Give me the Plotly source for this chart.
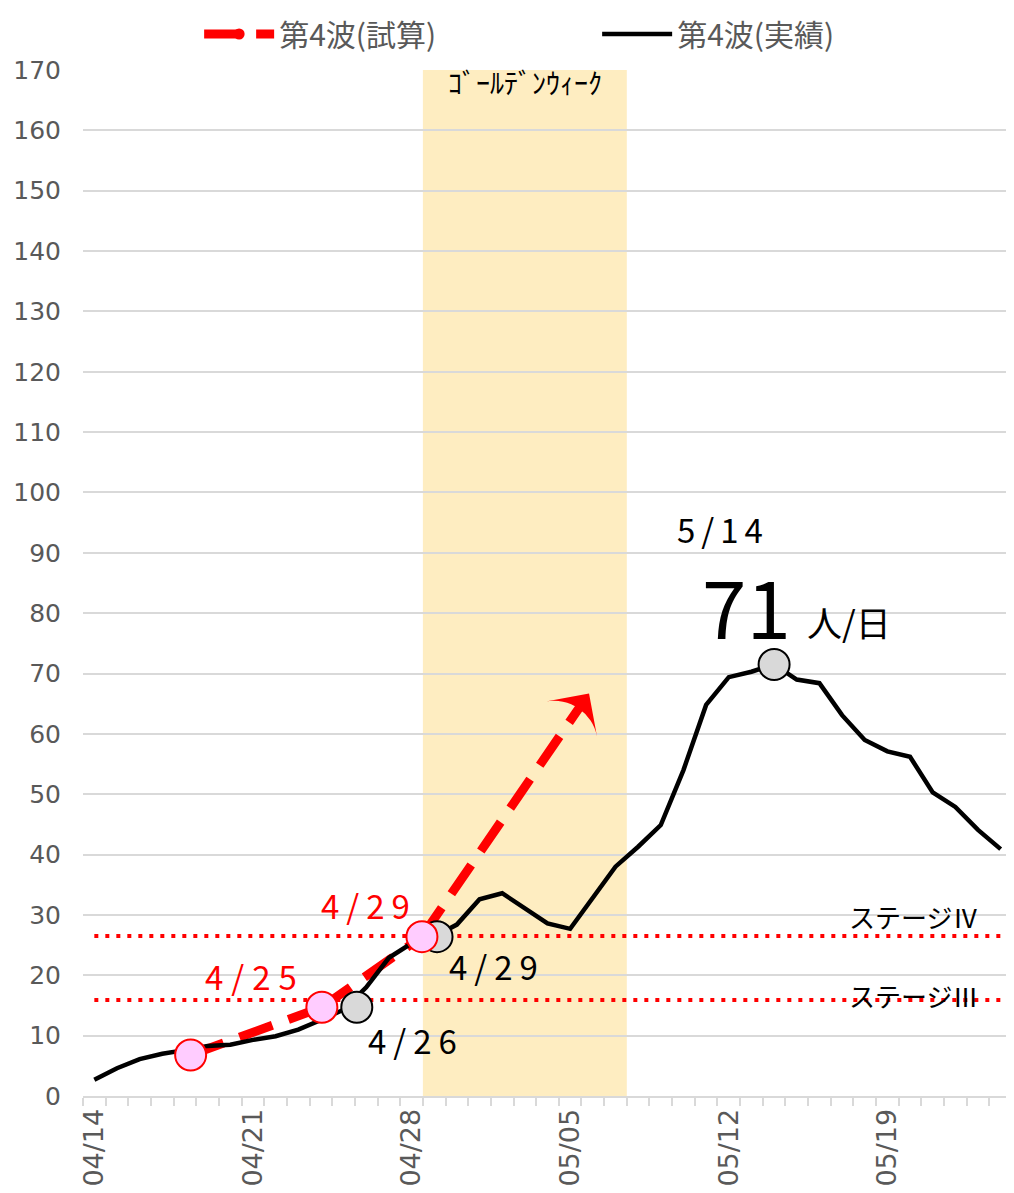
import plotly.graph_objects as go
import pandas as pd

# daily dates (category axis) and the actual 7-day average series
dates = pd.date_range("2021-04-14", "2021-05-24", freq="D")
actual = [2.7, 4.6, 6.1, 7.0, 7.6, 8.3, 8.5, 9.3, 9.9, 11.0,
          12.6, 14.3, 18.0, 22.9, 25.3, 26.4, 28.4, 32.6, 33.6, 31.0,
          28.6, 27.7, 33.0, 38.0, 41.3, 44.9, 54.0, 64.8, 69.4, 70.3,
          71.5, 69.0, 68.4, 63.1, 59.0, 57.1, 56.2, 50.3, 47.9, 44.1, 40.9]

# projection (red dashed with arrow)
plan_x = ["2021-04-18 06:00", "2021-04-24 01:00", "2021-04-28 11:00", "2021-05-05 20:00"]
plan_y = [6.8, 14.7, 26.4, 66.7]

# highlighted points
pink_x = ["2021-04-18 06:00", "2021-04-24 01:00", "2021-04-28 11:00"]
pink_y = [6.8, 14.7, 26.4]
gray_x = ["2021-04-25 14:00", "2021-04-29 03:00", "2021-05-14 00:00"]
gray_y = [14.7, 26.4, 71.5]

# stage thresholds
stage3 = 15.9
stage4 = 26.5

# golden week band
gw_start = "2021-04-28 12:00"
gw_end = "2021-05-07 12:00"

ytick_vals = list(range(0, 171, 10))

GRAY = "#595959"
JP = "Noto Sans CJK JP"
NUM = "DejaVu Sans"


def spaced(t, px=7):
    return f"<span style='letter-spacing:{px}px'>{t}</span>"


fig = go.Figure()

fig.add_shape(type="rect", xref="x", yref="y", x0=gw_start, x1=gw_end, y0=0, y1=170,
              fillcolor="#FEEDC1", line_width=0, layer="below")

# stage lines
for val in (stage4, stage3):
    fig.add_trace(go.Scatter(
        x=[dates[0], dates[-1]], y=[val, val], mode="lines",
        line=dict(color="#FF0000", width=4, dash="4px,7px"),
        showlegend=False, hoverinfo="skip"))

fig.add_trace(go.Scatter(
    x=plan_x, y=plan_y, mode="lines+markers", name="第4波(試算)",
    line=dict(color="#FF0000", width=9, dash="35px,17px"),
    marker=dict(symbol=["circle", "circle", "circle", "arrow-wide"], size=[0, 0, 0, 44],
                angleref="previous", color="#FF0000", opacity=1, line=dict(width=0)),
))

fig.add_trace(go.Scatter(
    x=dates, y=actual, mode="lines", name="第4波(実績)",
    line=dict(color="black", width=4.5),
))

fig.add_trace(go.Scatter(
    x=gray_x, y=gray_y, mode="markers", showlegend=False,
    marker=dict(size=31, color="#D9D9D9", line=dict(color="black", width=2)),
))
fig.add_trace(go.Scatter(
    x=pink_x, y=pink_y, mode="markers", showlegend=False,
    marker=dict(size=31, color="#FFCCFF", line=dict(color="#FF0000", width=2)),
))

anns = [
    dict(x="2021-04-21 02:00", y=19.9, text=spaced("4/25", 8), color="#FF0000", size=33),
    dict(x="2021-04-26 03:00", y=31.6, text=spaced("4/29"), color="#FF0000", size=33),
    dict(x="2021-04-28 05:00", y=9.3, text=spaced("4/26"), color="black", size=33),
    dict(x="2021-05-01 18:00", y=21.6, text=spaced("4/29"), color="black", size=33),
    dict(x="2021-05-11 18:00", y=94.0, text=spaced("5/14", 6), color="black", size=33),
    dict(x="2021-05-12 19:00", y=81.6, text="71", color="black", size=80),
    dict(x="2021-05-17 07:00", y=78.6, text="人/日", color="black", size=35),
]
for a in anns:
    fig.add_annotation(x=a["x"], y=a["y"], text=a["text"], showarrow=False,
                       font=dict(family=JP, size=a["size"], color=a["color"]))

fig.add_annotation(x="2021-05-03 00:00", y=168, text="ｺﾞｰﾙﾃﾞﾝｳｨｰｸ", showarrow=False,
                   yanchor="middle", font=dict(family=JP, size=28, color="black"))
fig.add_annotation(x="2021-05-17 05:00", y=29.7, text="ステージⅣ", showarrow=False,
                   xanchor="left", font=dict(family=JP, size=26, color="black"))
fig.add_annotation(x="2021-05-17 05:00", y=16.6, text="ステージⅢ", showarrow=False,
                   xanchor="left", font=dict(family=JP, size=26, color="black"))

# the page body has an 8px margin, so the figure is sized to fit inside the window
fig.update_layout(
    width=1006, height=1185,
    margin=dict(l=75, r=2, t=62, b=97),
    plot_bgcolor="white", paper_bgcolor="white",
    legend=dict(orientation="h", xref="container", yref="container",
                x=0.19, xanchor="left", y=1.0, yanchor="top",
                font=dict(family=JP, size=30, color=GRAY), itemwidth=70,
                entrywidth=313, traceorder="normal", borderwidth=0),
    xaxis=dict(
        range=["2021-04-13 12:00", "2021-05-24 12:00"],
        tickmode="linear", tick0="2021-04-14", dtick=7 * 86400000,
        tickformat="%m/%d", tickangle=-90, ticks="",
        tickfont=dict(family=NUM, size=27, color=GRAY),
        showgrid=False, showline=True, linecolor="#D9D9D9", linewidth=2,
        minor=dict(tick0="2021-04-13 12:00", dtick=86400000, ticks="outside",
                   ticklen=8, tickcolor="#D9D9D9", tickwidth=2, showgrid=False),
        automargin=False,
    ),
    yaxis=dict(
        range=[0, 170], tickvals=ytick_vals,
        tickfont=dict(family=NUM, size=25, color=GRAY),
        showgrid=True, gridcolor="#D9D9D9", gridwidth=1.5,
        zeroline=False, showline=False, ticks="", ticklabelstandoff=21,
        automargin=False,
    ),
)

fig.write_html("out.html")
